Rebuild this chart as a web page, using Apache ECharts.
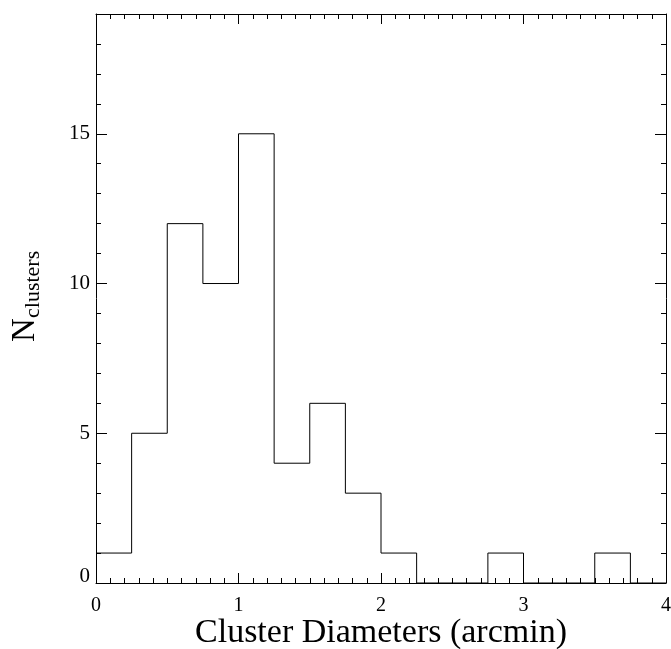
<!DOCTYPE html>
<html>
<head>
<meta charset="utf-8">
<script src="https://cdn.jsdelivr.net/npm/echarts@6/dist/echarts.min.js"></script>
<style>html,body{margin:0;padding:0;background:#fff}#c{width:671px;height:649px}</style>
</head>
<body>
<div id="c"></div>
<script>
// Histogram: bin left edges (arcmin) and counts
var binEdges = [0, 0.25, 0.5, 0.75, 1.0, 1.25, 1.5, 1.75, 2.0, 2.25, 2.5, 2.75, 3.0, 3.25, 3.5, 3.75];
var binWidth = 0.25;
var counts   = [1, 5, 12, 10, 15, 4, 6, 3, 1, 0, 0, 1, 0, 0, 1, 0];
var xTicks = [0, 1, 2, 3, 4];
var yTicks = [0, 5, 10, 15];
var xTitle = 'Cluster Diameters (arcmin)';
var yTitleMain = 'N';
var yTitleSub = 'clusters';

var FONT = '"Liberation Serif", "DejaVu Serif", serif';
var stepData = binEdges.map(function (e, i) { return [e, counts[i]]; });
stepData.push([binEdges[binEdges.length - 1] + binWidth, counts[counts.length - 1]]);

var chart = echarts.init(document.getElementById('c'), null, {renderer: 'canvas'});
var lineStyle = {color: '#000', width: 1};
function xAx(pos, showLabel) {
  return {
    type: 'value', position: pos, min: xTicks[0], max: xTicks[xTicks.length - 1], interval: 1,
    axisLine: {show: true, onZero: false, lineStyle: lineStyle},
    axisTick: {show: true, inside: true, length: 10, lineStyle: lineStyle},
    minorTick: {show: true, splitNumber: 10, length: 5, lineStyle: lineStyle},
    splitLine: {show: false}, minorSplitLine: {show: false},
    axisLabel: {show: showLabel, color: '#000', fontFamily: FONT, fontSize: 20, margin: 13}
  };
}
function yAx(pos, major, showLabel) {
  return {
    type: 'value', position: pos, min: 0, max: 19, interval: major ? 5 : 1,
    axisLine: {show: major, onZero: false, lineStyle: lineStyle},
    axisTick: {show: true, inside: true, length: major ? 11 : 5, lineStyle: lineStyle},
    splitLine: {show: false},
    axisLabel: {
      show: showLabel, color: '#000', fontFamily: FONT, fontSize: 21, margin: 6,
      formatter: function (v) {
        if (yTicks.indexOf(v) < 0) return '';
        return v === 0 ? '{z|0}' : String(v);
      },
      rich: {z: {fontFamily: FONT, fontSize: 21, color: '#000', padding: [0, 0, 13, 0]}}
    }
  };
}
chart.setOption({
  animation: false,
  backgroundColor: '#fff',
  grid: {left: 96, right: 5, top: 14, bottom: 66, containLabel: false, outerBoundsMode: 'none'},
  xAxis: [xAx('bottom', true), xAx('top', false)],
  yAxis: [yAx('left', true, true), yAx('left', false, false), yAx('right', true, false), yAx('right', false, false)],
  graphic: [{
    type: 'text', x: 381, y: 633,
    style: {text: xTitle, align: 'center', verticalAlign: 'middle',
            font: '34px ' + FONT, fill: '#000'}
  }, {
    type: 'text', x: 25, y: 342, rotation: Math.PI / 2,
    style: {text: yTitleMain, align: 'left', verticalAlign: 'middle',
            font: '33px ' + FONT, fill: '#000'}
  }, {
    type: 'text', x: 33.5, y: 318, rotation: Math.PI / 2,
    style: {text: yTitleSub, align: 'left', verticalAlign: 'middle',
            font: '22px ' + FONT, fill: '#000'}
  }],
  series: [{
    type: 'line', step: 'end', data: stepData, xAxisIndex: 0, yAxisIndex: 0,
    symbol: 'none', lineStyle: {color: '#000', width: 1}, clip: false
  }]
});
</script>
</body>
</html>
